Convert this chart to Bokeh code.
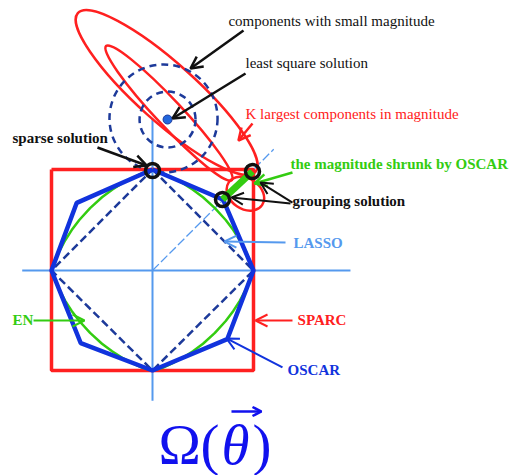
from bokeh.plotting import figure
from bokeh.models import Range1d, Label, Arrow, OpenHead
from bokeh.embed import file_html
from bokeh.resources import INLINE

# ---------------- data (theta space, unit = constraint-region radius) ----------------
sparc_x = [-1.0, 1.0, 1.0, -1.0, -1.0]
sparc_y = [1.0, 1.0, -0.99, -0.99, 1.0]

lasso_x = [0.0, 1.0, 0.0, -1.0, 0.0]
lasso_y = [1.0, 0.0, -0.99, 0.0, 1.0]

oscar_x = [0.0, 0.70, 1.0, 0.74, 0.0, -0.71, -1.0, -0.75, 0.0]
oscar_y = [1.0, 0.70, 0.0, -0.68, -0.99, -0.72, 0.0, 0.67, 1.0]

en_x = [0.0, 0.1, 0.2, 0.3, 0.4, 0.5, 0.618, 0.725, 0.8, 0.864, 0.918, 0.963, 1.0,
        0.963, 0.918, 0.864, 0.8, 0.725, 0.618, 0.5, 0.4, 0.3, 0.2, 0.1, 0.0,
        -0.1, -0.2, -0.3, -0.4, -0.5, -0.618, -0.725, -0.8, -0.864, -0.918, -0.963, -1.0,
        -0.963, -0.918, -0.864, -0.8, -0.725, -0.618, -0.5, -0.4, -0.3, -0.2, -0.1, 0.0]
en_y = [1.0, 0.963, 0.918, 0.864, 0.8, 0.725, 0.618, 0.5, 0.4, 0.3, 0.2, 0.1, 0.0,
        -0.1, -0.2, -0.3, -0.4, -0.5, -0.618, -0.725, -0.8, -0.864, -0.918, -0.963, -0.99,
        -0.963, -0.918, -0.864, -0.8, -0.725, -0.618, -0.5, -0.4, -0.3, -0.2, -0.1, 0.0,
        0.1, 0.2, 0.3, 0.4, 0.5, 0.618, 0.725, 0.8, 0.864, 0.918, 0.963, 1.0]

# axes and diagonal
haxis_x = [-1.29, 1.96]
haxis_y = [0.0, 0.0]
vaxis_x = [0.0, 0.0]
vaxis_y = [1.505, -1.29]
diag_x = [0.0, 1.2]
diag_y = [0.0, 1.2]

# least-squares contours (red ellipses)
ell_x = [0.14, 0.163, 0.92]
ell_y = [1.762, 1.559, 0.76]
ell_w = [2.36, 1.82, 0.40]
ell_h = [0.58, 0.257, 0.30]
ell_a = [-0.73, -0.817, -0.6]

# dashed circles around least-squares solution
circ_x = [0.109, 0.149]
circ_y = [1.505, 1.495]
circ_r = [0.535, 0.277]

ls_x = [0.149]
ls_y = [1.495]

# solutions (black circles)
sol_x = [0.0, 0.99, 0.693]
sol_y = [0.99, 0.98, 0.703]

# shrink segment
shrink_x = [0.693, 0.99]
shrink_y = [0.703, 0.98]

# ---------------- figure ----------------
p = figure(width=513, height=475,
           x_range=Range1d(-1.5050, 3.5743), y_range=Range1d(-2.0297, 2.6733),
           output_backend="svg", toolbar_location=None, min_border=0)
p.axis.visible = False
p.grid.visible = False
p.outline_line_color = None
p.background_fill_color = "white"

RED = "#ff2020"
GREEN = "#33cc11"
LBLUE = "#5599ee"
BLUE = "#1133dd"
NAVY = "#1d3a9a"
BLACK = "#111111"

p.line(haxis_x, haxis_y, line_color=LBLUE, line_width=2)
p.line(vaxis_x, vaxis_y, line_color=LBLUE, line_width=2)
p.line(diag_x, diag_y, line_color=LBLUE, line_width=1.3, line_dash="9 3")

p.line(sparc_x, sparc_y, line_color=RED, line_width=3.5)

p.ellipse(x=ell_x, y=ell_y, width=ell_w, height=ell_h, angle=ell_a,
          fill_color=None, line_color=RED, line_width=2.5)

p.circle(x=circ_x, y=circ_y, radius=circ_r, fill_color=None,
         line_color=NAVY, line_width=2.5, line_dash="7 5")

p.line(lasso_x, lasso_y, line_color=NAVY, line_width=2.5, line_dash="8 4")
p.line(en_x, en_y, line_color=GREEN, line_width=2.5)
p.line(oscar_x, oscar_y, line_color=BLUE, line_width=4.5)

p.scatter(ls_x, ls_y, size=9, marker="circle", fill_color="#2266dd", line_color=NAVY, line_width=1)

p.line(shrink_x, shrink_y, line_color=GREEN, line_width=7)
p.scatter(sol_x, sol_y, size=14, marker="circle", fill_color=None, line_color=BLACK, line_width=3.5)

# ---------------- annotations ----------------
arrows = [
    # x_start, y_start, x_end, y_end, color, width
    (0.901, 2.376, 0.376, 2.000, BLACK, 2.5),   # components with small magnitude
    (0.921, 1.950, 0.198, 1.505, BLACK, 2.5),   # least square solution
    (0.990, 1.455, 0.851, 1.287, RED, 2.5),     # K largest components
    (-0.545, 1.218, -0.059, 1.040, BLACK, 2.5), # sparse solution
    (1.386, 0.970, 1.010, 0.861, GREEN, 2.5),   # shrunk by OSCAR
    (1.386, 0.673, 1.069, 0.871, BLACK, 2.0),   # grouping (upper)
    (1.366, 0.663, 0.782, 0.723, BLACK, 2.0),   # grouping (lower)
    (1.317, 0.277, 0.713, 0.287, LBLUE, 2.0),   # LASSO
    (1.386, -0.495, 1.020, -0.495, RED, 2.0),   # SPARC
    (1.287, -0.960, 0.733, -0.673, BLUE, 2.0),  # OSCAR
    (-1.178, -0.495, -0.673, -0.495, GREEN, 2.0),  # EN
]
for xs, ys, xe, ye, c, w in arrows:
    p.add_layout(Arrow(end=OpenHead(size=12, line_color=c, line_width=w),
                       x_start=xs, y_start=ys, x_end=xe, y_end=ye,
                       line_color=c, line_width=w))

labels = [
    # x, y, text, color, style
    (0.752, 2.475, "components with small magnitude", BLACK, "normal"),
    (0.921, 2.050, "least square solution", BLACK, "normal"),
    (0.921, 1.554, "K largest components in magnitude", RED, "normal"),
    (-1.386, 1.307, "sparse solution", BLACK, "bold"),
    (1.366, 1.059, "the magnitude shrunk by OSCAR", GREEN, "bold"),
    (1.386, 0.693, "grouping solution", BLACK, "bold"),
    (1.396, 0.277, "LASSO", LBLUE, "bold"),
    (1.436, -0.495, "SPARC", RED, "bold"),
    (1.337, -0.990, "OSCAR", BLUE, "bold"),
    (-1.386, -0.495, "EN", GREEN, "bold"),
]
for x, y, t, c, s in labels:
    p.add_layout(Label(x=x, y=y, text=t, text_color=c, text_font="Liberation Serif",
                       text_font_size="15px", text_font_style=s,
                       text_baseline="middle", text_align="left"))

# formula  Omega(theta-vector)
FBLUE = "#1111ee"
formula = [
    (0.059, -1.723, "Ω", "normal"),
    (0.475, -1.723, "(", "normal"),
    (0.683, -1.723, "θ", "italic"),
    (0.990, -1.723, ")", "normal"),
]
for x, y, t, s in formula:
    p.add_layout(Label(x=x, y=y, text=t, text_color=FBLUE, text_font="Liberation Serif",
                       text_font_size="57px", text_font_style=s,
                       text_baseline="alphabetic", text_align="left"))
p.add_layout(Arrow(end=OpenHead(size=9, line_color=FBLUE, line_width=2.5),
                   x_start=0.782, y_start=-1.396, x_end=1.079, y_end=-1.396,
                   line_color=FBLUE, line_width=2.5))

open("out.html", "w").write(file_html(p, INLINE))
